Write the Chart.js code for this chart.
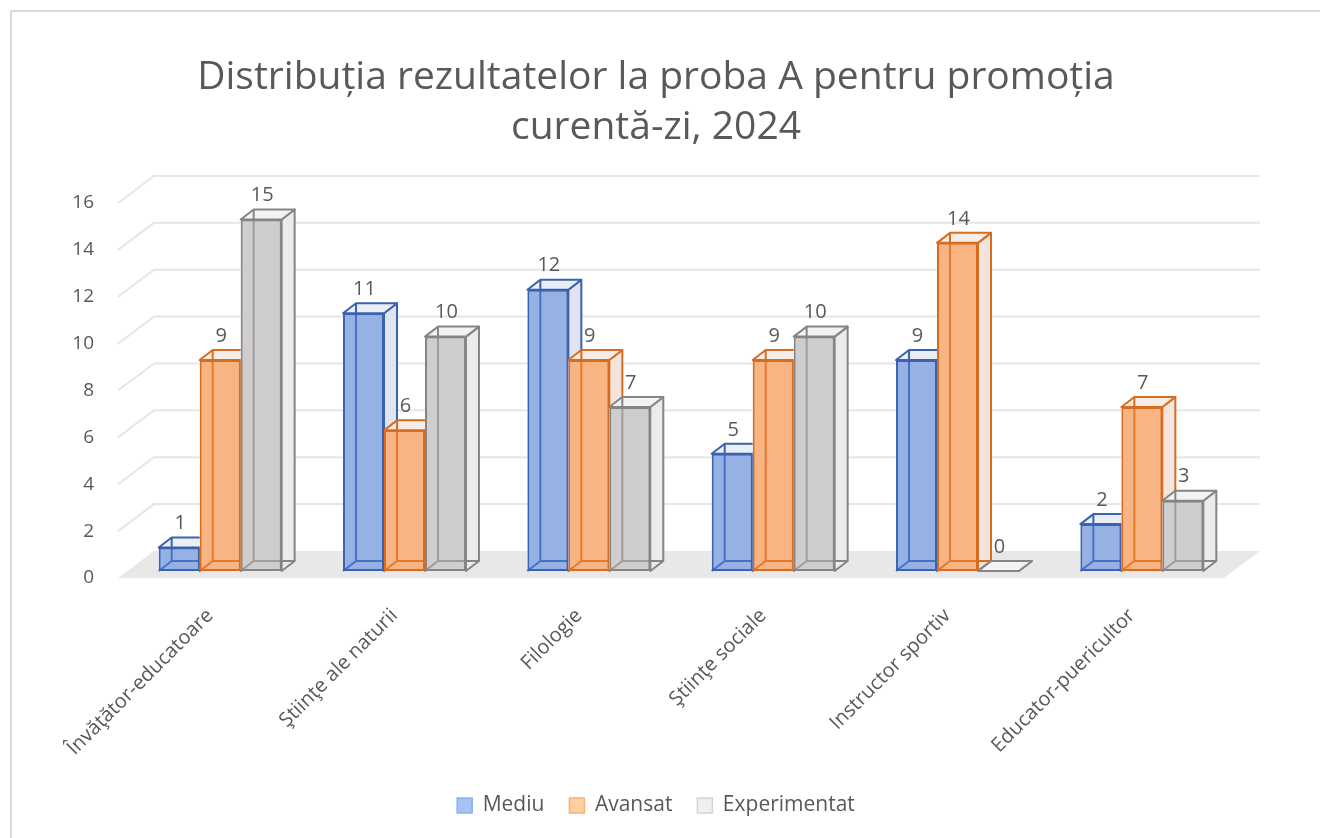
<!DOCTYPE html>
<html>
<head>
<meta charset="utf-8">
<script src="https://cdn.jsdelivr.net/npm/chart.js@4.4.1/dist/chart.umd.min.js"></script>
<style>
  body { margin: 0; background: #fff; }
  canvas { display: block; }
</style>
</head>
<body>
<canvas id="myChart" width="1320" height="838"></canvas>
<script>
// data
const categories = ['Învăţător-educatoare', 'Ştiinţe ale naturii', 'Filologie', 'Ştiinţe sociale', 'Instructor sportiv', 'Educator-puericultor'];
const seriesNames = ['Mediu', 'Avansat', 'Experimentat'];
const mediu = [1, 11, 12, 5, 9, 2];
const avansat = [9, 6, 9, 9, 14, 7];
const experimentat = [15, 10, 7, 10, 0, 3];
const yMax = 16;
const yStep = 2;

// colours
const frontColors = ['rgba(80,125,210,0.6)', 'rgba(245,130,50,0.6)', 'rgba(175,172,172,0.6)'];
const edgeColors = ['#3a62b0', '#d86c1f', '#858585'];
const sideColors = ['#dfe4ee', '#f2e5de', '#ebebeb'];
const topColors = ['#eaeef5', '#f7ede8', '#f3f3f3'];
const legendFill = ['#a6c3f4', '#fdd0a2', '#efefef'];
const legendStroke = ['#8db0ea', '#f6b27b', '#d5d5d5'];

// fake 3D: depth of a bar, shift of the bars into the floor, depth of the floor
const DX = 13, DY = -10;
const TX = 10, TY = -7;
const WX = 36, WY = -27;

Chart.defaults.font.family = "'Open Sans', sans-serif";
Chart.defaults.color = '#595959';

const threeD = {
    id: 'threeD',
    beforeDraw(chart) {
        const {ctx, chartArea: a, scales: {y}} = chart;
        ctx.save();
        // outer frame
        ctx.strokeStyle = '#d9d9d9';
        ctx.lineWidth = 2;
        ctx.strokeRect(11, 11, 1500, 1000);
        // back wall grid lines
        ctx.strokeStyle = '#e6e6e6';
        y.ticks.forEach(t => {
            if (t.value === 0) return;
            const p = y.getPixelForValue(t.value);
            ctx.beginPath();
            ctx.moveTo(a.left, p);
            ctx.lineTo(a.left + WX, p + WY);
            ctx.lineTo(a.right + WX, p + WY);
            ctx.stroke();
        });
        // floor
        const y0 = y.getPixelForValue(0);
        ctx.fillStyle = '#e8e8e8';
        ctx.beginPath();
        ctx.moveTo(a.left, y0);
        ctx.lineTo(a.right, y0);
        ctx.lineTo(a.right + WX, y0 + WY);
        ctx.lineTo(a.left + WX, y0 + WY);
        ctx.closePath();
        ctx.fill();
        ctx.restore();
    },
    beforeDatasetsDraw(chart) {
        const ctx = chart.ctx;
        ctx.save();
        ctx.translate(TX, TY);
        ctx.lineWidth = 2;
        ctx.lineJoin = 'round';
        chart.data.datasets.forEach((ds, di) => {
            chart.getDatasetMeta(di).data.forEach(bar => {
                const l = bar.x - bar.width / 2, r = bar.x + bar.width / 2;
                const t = Math.min(bar.y, bar.base), b = bar.base;
                ctx.strokeStyle = edgeColors[di];
                // white under the see-through front
                ctx.fillStyle = '#fff';
                ctx.fillRect(l, t, r - l, b - t);
                // right side
                ctx.fillStyle = sideColors[di];
                ctx.beginPath();
                ctx.moveTo(r, t);
                ctx.lineTo(r + DX, t + DY);
                ctx.lineTo(r + DX, b + DY);
                ctx.lineTo(r, b);
                ctx.closePath();
                ctx.fill();
                ctx.stroke();
                // top
                ctx.fillStyle = topColors[di];
                ctx.beginPath();
                ctx.moveTo(l, t);
                ctx.lineTo(r, t);
                ctx.lineTo(r + DX, t + DY);
                ctx.lineTo(l + DX, t + DY);
                ctx.closePath();
                ctx.fill();
                ctx.stroke();
                // hidden edges, seen through the front
                ctx.beginPath();
                ctx.moveTo(l + DX, t + DY);
                ctx.lineTo(l + DX, b + DY);
                ctx.lineTo(r + DX, b + DY);
                ctx.moveTo(l, b);
                ctx.lineTo(l + DX, b + DY);
                ctx.stroke();
            });
        });
    },
    afterDatasetsDraw(chart) {
        const ctx = chart.ctx;
        // value labels (still shifted like the bars)
        ctx.font = "20px 'Open Sans', sans-serif";
        ctx.fillStyle = '#595959';
        ctx.textAlign = 'center';
        ctx.textBaseline = 'middle';
        chart.data.datasets.forEach((ds, di) => {
            chart.getDatasetMeta(di).data.forEach((bar, i) => {
                ctx.fillText(String(ds.data[i]), bar.x + 1, Math.min(bar.y, bar.base) + DY - 14);
            });
        });
        ctx.restore();
    }
};

let ctx = document.getElementById('myChart').getContext('2d');
let chart = new Chart(ctx, {
    type: 'bar',
    data: {
        labels: categories,
        datasets: [mediu, avansat, experimentat].map((vals, i) => ({
            label: seriesNames[i],
            data: vals,
            backgroundColor: frontColors[i],
            borderColor: edgeColors[i],
            borderWidth: 2,
            borderSkipped: false,
            barPercentage: 1,
            categoryPercentage: 0.667,
            clip: false
        }))
    },
    options: {
        responsive: false,
        animation: false,
        layout: { padding: { left: 18, right: 26, top: 10, bottom: 12 } },
        plugins: {
            title: {
                display: true,
                text: ['Distribuția rezultatelor la proba A pentru promoția', 'curentă-zi, 2024'],
                color: '#595959',
                font: { size: 39, weight: 'normal', lineHeight: 1.282 },
                padding: { top: 43, bottom: 50 }
            },
            legend: {
                position: 'bottom',
                labels: {
                    boxWidth: 15,
                    boxHeight: 15,
                    padding: 25,
                    font: { size: 21 },
                    color: '#595959',
                    generateLabels: c => c.data.datasets.map((ds, i) => ({
                        text: ds.label,
                        fillStyle: legendFill[i],
                        strokeStyle: legendStroke[i],
                        lineWidth: 1.5,
                        fontColor: '#595959',
                        datasetIndex: i,
                        hidden: false
                    }))
                }
            },
            tooltip: { enabled: false }
        },
        scales: {
            x: {
                grid: { display: false, drawTicks: false },
                border: { display: false },
                ticks: { autoSkip: false, minRotation: 45, maxRotation: 45, padding: 26, font: { size: 20 }, color: '#595959' },
                afterFit: s => { s.height = 192; }
            },
            y: {
                min: 0,
                max: yMax,
                grid: { display: false, drawTicks: false },
                border: { display: false },
                ticks: { stepSize: yStep, padding: 24, font: { size: 19 }, color: '#595959' },
                afterFit: s => { s.width = 100; }
            },
            // empty axis on the right, only to hold space
            y2: {
                position: 'right',
                grid: { display: false, drawTicks: false },
                border: { display: false },
                ticks: { display: false },
                afterFit: s => { s.width = 70; }
            }
        }
    },
    plugins: [threeD]
});
</script>
</body>
</html>
